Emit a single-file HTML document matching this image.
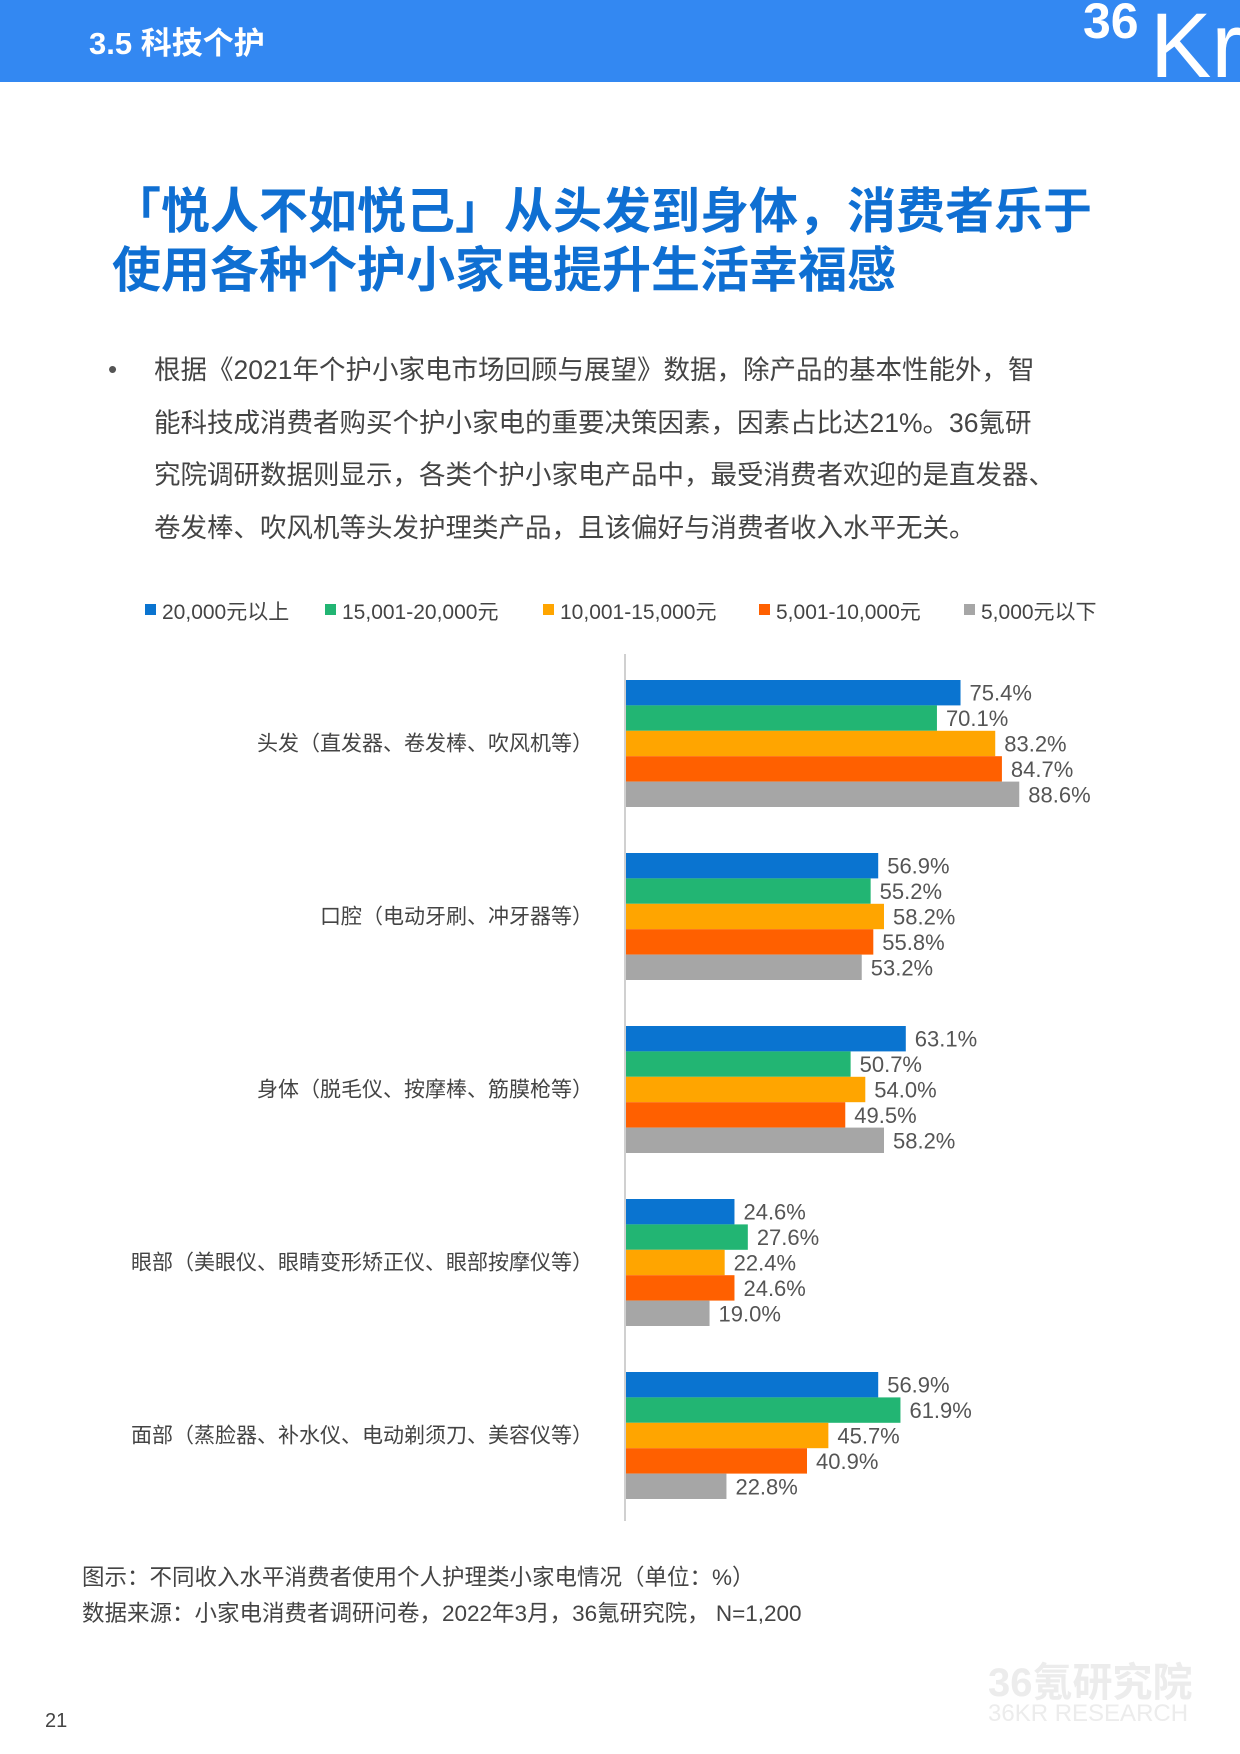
<!DOCTYPE html>
<html><head><meta charset="utf-8">
<style>
body{margin:0;width:1240px;height:1754px;background:#fff;position:relative;overflow:hidden;font-family:"Liberation Sans","Noto Sans CJK SC",sans-serif;}
.abs{position:absolute;white-space:nowrap;}
</style></head><body>
<div class="abs" style="left:0;top:0;width:1240px;height:82px;background:#3388f2;"></div>
<div class="abs" style="left:89px;top:24px;font-size:31px;font-weight:bold;color:#fff;line-height:40px;">3.5 科技个护</div>
<div class="abs" style="left:1083px;top:-6px;font-size:50px;font-weight:bold;color:#fff;line-height:54px;">36</div>
<div class="abs" style="left:1150px;top:4px;font-size:92px;color:#fff;line-height:84px;height:78px;overflow:hidden;">Kr</div>

<div class="abs" style="left:112px;top:184px;font-size:49px;font-weight:bold;color:#0f6fd2;line-height:56px;">「悦人不如悦己」从头发到身体，消费者乐于</div>
<div class="abs" style="left:112px;top:243px;font-size:49px;font-weight:bold;color:#0f6fd2;line-height:56px;">使用各种个护小家电提升生活幸福感</div>

<div class="abs" style="left:108px;top:354px;font-size:26px;color:#555;">•</div>
<div class="abs" style="left:154px;top:344px;font-size:26.5px;color:#444;line-height:52.6px;white-space:normal;width:990px;">根据《2021年个护小家电市场回顾与展望》数据，除产品的基本性能外，智<br>能科技成消费者购买个护小家电的重要决策因素，因素占比达21%。36氪研<br>究院调研数据则显示，各类个护小家电产品中，最受消费者欢迎的是直发器、<br>卷发棒、吹风机等头发护理类产品，且该偏好与消费者收入水平无关。</div>

<svg class="abs" style="left:0;top:580px" width="1240" height="960" id="chart"></svg>

<div class="abs" style="left:82px;top:1560px;font-size:22.5px;color:#444;">图示：不同收入水平消费者使用个人护理类小家电情况（单位：%）</div>
<div class="abs" style="left:82px;top:1596px;font-size:22.5px;color:#444;">数据来源：小家电消费者调研问卷，2022年3月，36氪研究院， N=1,200</div>
<div class="abs" style="left:45px;top:1710px;font-size:20px;color:#444;">21</div>
<div class="abs" style="left:988px;top:1650px;font-size:40px;font-weight:bold;color:#ececec;">36氪研究院</div>
<div class="abs" style="left:988px;top:1700px;font-size:24px;color:#ececec;">36KR RESEARCH</div>

<script>
const categories=["头发（直发器、卷发棒、吹风机等）","口腔（电动牙刷、冲牙器等）","身体（脱毛仪、按摩棒、筋膜枪等）","眼部（美眼仪、眼睛变形矫正仪、眼部按摩仪等）","面部（蒸脸器、补水仪、电动剃须刀、美容仪等）"];
const seriesNames=["20,000元以上","15,001-20,000元","10,001-15,000元","5,001-10,000元","5,000元以下"];
const s1=[75.4,56.9,63.1,24.6,56.9];
const s2=[70.1,55.2,50.7,27.6,61.9];
const s3=[83.2,58.2,54.0,22.4,45.7];
const s4=[84.7,55.8,49.5,24.6,40.9];
const s5=[88.6,53.2,58.2,19.0,22.8];
const series=[s1,s2,s3,s4,s5];
const colors=["#0a74d0","#22b573","#ffa500","#ff6000","#a6a6a6"];
const svg=document.getElementById('chart');
const NS="http://www.w3.org/2000/svg";
const X0=625, PX=4.45, OY=-580;
const x=v=>X0+v*PX;
const gTop=i=>680+i*173+OY;
const BH=25.4;
function mk(t,a){const e=document.createElementNS(NS,t);for(const k in a)e.setAttribute(k,a[k]);svg.appendChild(e);return e;}
// legend
const lx=[145,325,543,759,964];
seriesNames.forEach((n,j)=>{
  const r=mk('rect',{x:lx[j],y:604+OY,width:11,height:11,fill:colors[j]});
  
  
  const t=mk('text',{x:lx[j]+17,y:619+OY,'font-size':21,fill:'#444'});
  t.textContent=n;
  
  
});
// axis
const ax=mk('line',{x1:X0,x2:X0,y1:654+OY,y2:1521+OY,stroke:'#d0d0d0','stroke-width':2});


categories.forEach((c,i)=>{
  const t=mk('text',{x:593,y:gTop(i)+2.5*BH+7,'font-size':21,fill:'#444','text-anchor':'end'});
  t.textContent=c;
  
  
  series.forEach((s,j)=>{
    const y=gTop(i)+j*BH;
    const r=mk('rect',{x:X0+1,y:y,width:x(s[i])-X0-1,height:BH,fill:colors[j]});
    
    
    const l=mk('text',{x:x(s[i])+9,y:y+BH/2+8,'font-size':22,fill:'#555'});
    l.textContent=s[i].toFixed(1)+'%';
    
    
  });
});
</script>
</body></html>
